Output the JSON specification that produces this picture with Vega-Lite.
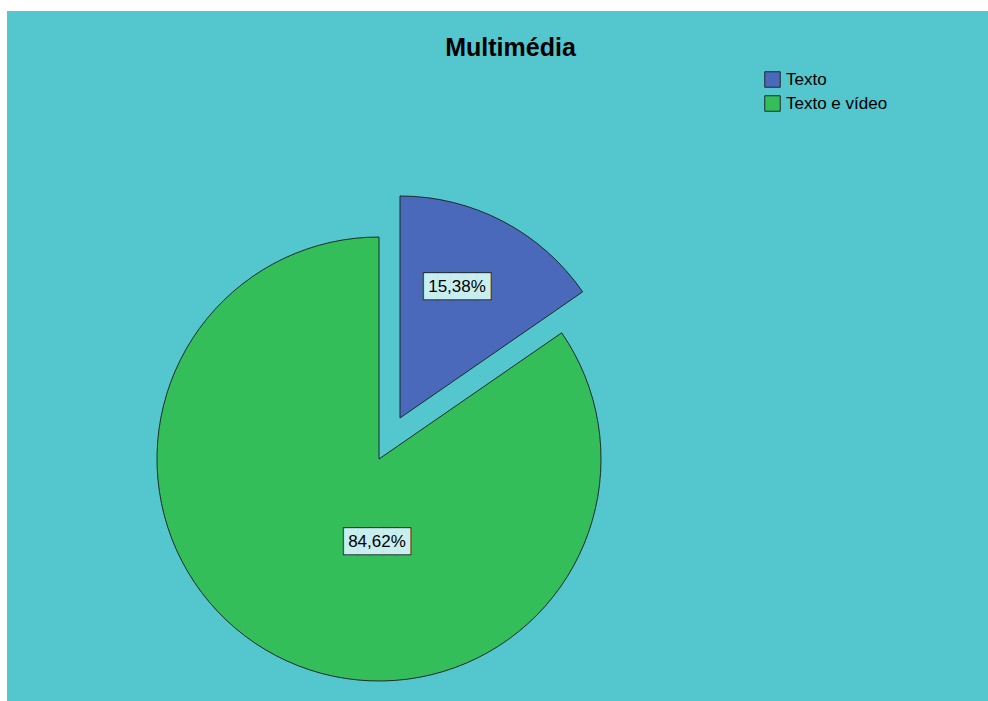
{
  "$schema": "https://vega.github.io/schema/vega-lite/v6.json",
  "autosize": {"type": "fit", "contains": "padding"},
  "width": 988,
  "height": 701,
  "padding": {"left": 7, "top": 11, "right": 0, "bottom": 0},
  "background": "white",
  "view": {"fill": "#53C6CE", "stroke": null},
  "title": {
    "text": "Multimédia",
    "font": "Liberation Sans",
    "fontSize": 25,
    "fontWeight": "bold",
    "color": "#000000",
    "anchor": "middle",
    "offset": -50,
    "dx": 13
  },
  "data": {
    "values": [
      {"cat": "Texto", "pct": 15.38, "label": "15,38%"},
      {"cat": "Texto e vídeo", "pct": 84.62, "label": "84,62%"}
    ]
  },
  "encoding": {
    "theta": {"field": "pct", "type": "quantitative", "stack": true}
  },
  "layer": [
    {
      "mark": {
        "type": "arc",
        "x": 372,
        "y": 448,
        "outerRadius": 222,
        "stroke": "#1E2A2A",
        "strokeWidth": 1,
        "xOffset": {"expr": "datum.cat === 'Texto' ? 21 : 0"},
        "yOffset": {"expr": "datum.cat === 'Texto' ? -41 : 0"}
      },
      "encoding": {
        "color": {
          "field": "cat",
          "type": "nominal",
          "scale": {"domain": ["Texto", "Texto e vídeo"], "range": ["#4B69BA", "#33BE5A"]},
          "legend": {
            "title": null,
            "orient": "none",
            "legendX": 757,
            "legendY": 60,
            "symbolType": "square",
            "symbolSize": 240,
            "symbolStrokeColor": "#1E2A2A",
            "symbolStrokeWidth": 1,
            "labelFont": "Liberation Sans",
            "labelFontSize": 17,
            "labelColor": "#000000",
            "labelOffset": 5,
            "rowPadding": 3
          }
        }
      }
    },
    {
      "mark": {
        "type": "text",
        "text": "█████",
        "font": "DejaVu Sans Mono",
        "fontSize": 22,
        "fill": "#1E2A2A",
        "stroke": "#1E2A2A",
        "strokeWidth": 2,
        "align": "center",
        "baseline": "middle",
        "x": 372,
        "y": 448,
        "radius": {"expr": "datum.cat === 'Texto' ? 143 : 83"},
        "thetaOffset": {"expr": "datum.cat === 'Texto' ? -0.073 : -0.459"},
        "xOffset": {"expr": "datum.cat === 'Texto' ? 21 : 0"},
        "yOffset": {"expr": "datum.cat === 'Texto' ? -41 : 0"}
      }
    },
    {
      "mark": {
        "type": "text",
        "text": "█████",
        "font": "DejaVu Sans Mono",
        "fontSize": 22,
        "fill": "#C8EEF0",
        "align": "center",
        "baseline": "middle",
        "x": 372,
        "y": 448,
        "radius": {"expr": "datum.cat === 'Texto' ? 143 : 83"},
        "thetaOffset": {"expr": "datum.cat === 'Texto' ? -0.073 : -0.459"},
        "xOffset": {"expr": "datum.cat === 'Texto' ? 21 : 0"},
        "yOffset": {"expr": "datum.cat === 'Texto' ? -41 : 0"}
      }
    },
    {
      "mark": {
        "type": "text",
        "font": "Liberation Sans",
        "fontSize": 17,
        "fill": "#000000",
        "align": "center",
        "baseline": "middle",
        "x": 372,
        "y": 448,
        "radius": {"expr": "datum.cat === 'Texto' ? 143 : 83"},
        "thetaOffset": {"expr": "datum.cat === 'Texto' ? -0.073 : -0.459"},
        "xOffset": {"expr": "datum.cat === 'Texto' ? 21 : 0"},
        "yOffset": {"expr": "datum.cat === 'Texto' ? -41 : 0"}
      },
      "encoding": {
        "text": {"field": "label", "type": "nominal"}
      }
    }
  ]
}
